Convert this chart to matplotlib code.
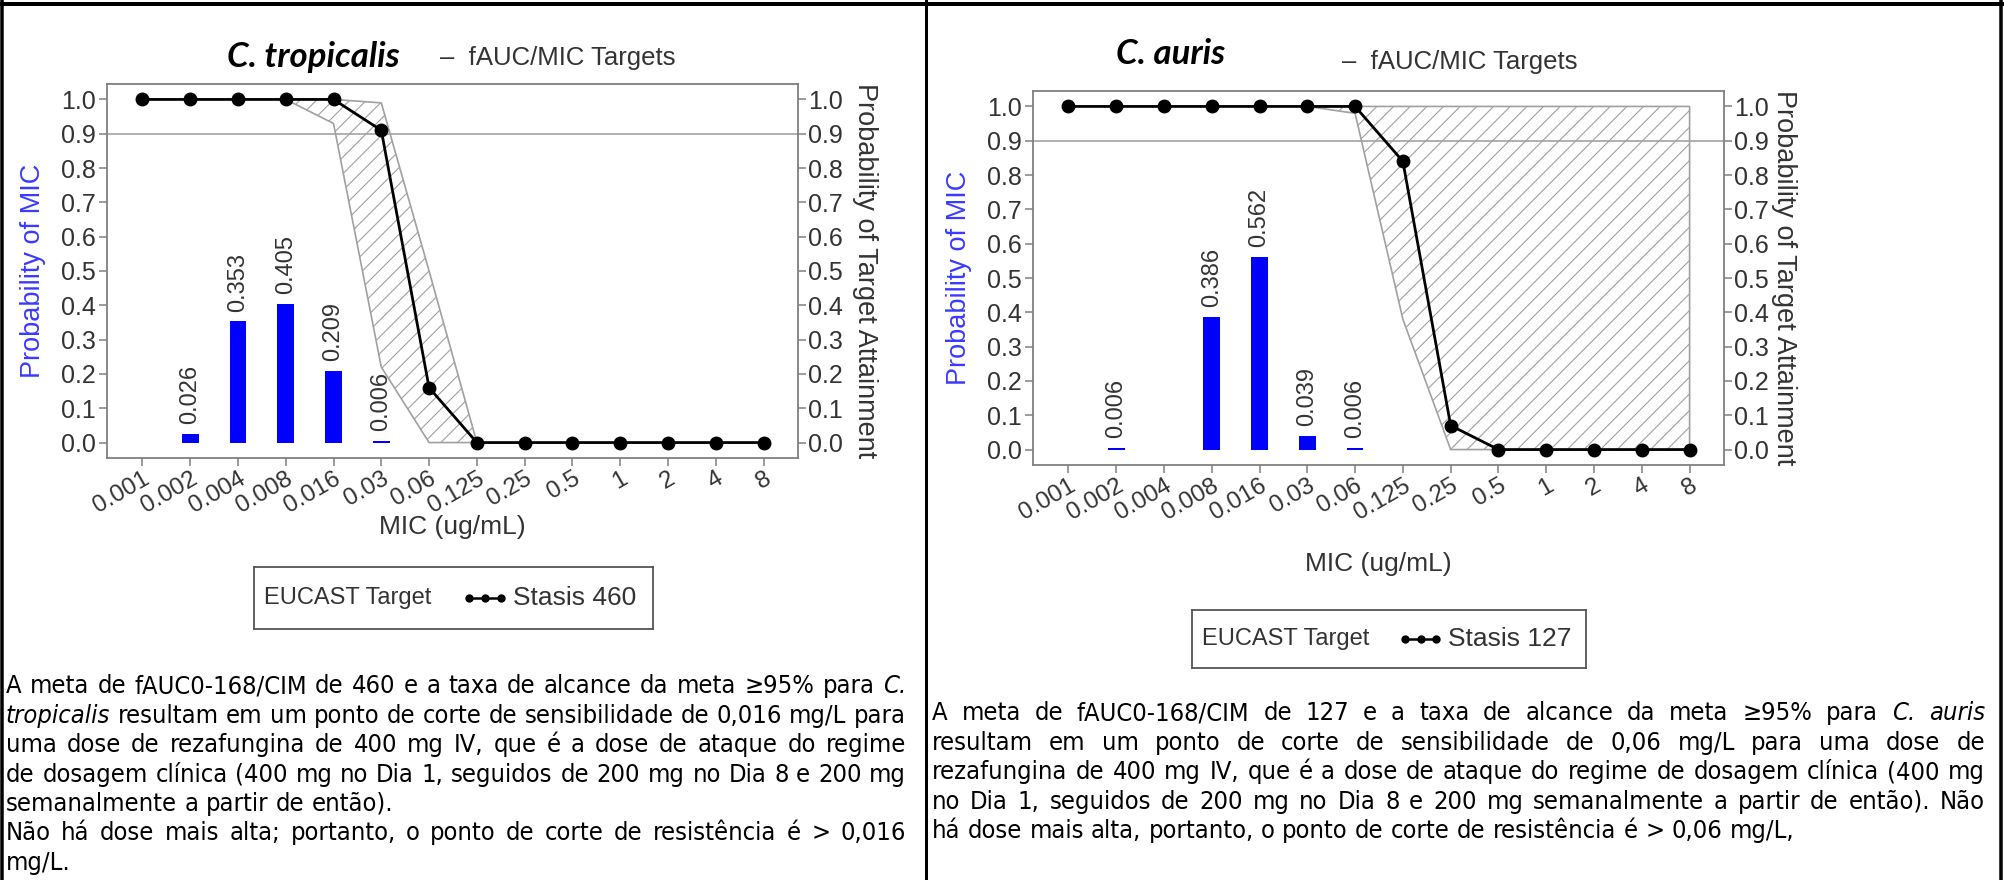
import numpy as np
import matplotlib
matplotlib.use("Agg")
import matplotlib.pyplot as plt
from matplotlib import font_manager as fm
from matplotlib.lines import Line2D
from matplotlib.ticker import FormatStrFormatter
from matplotlib.transforms import ScaledTranslation

W, H = 2004, 880

mic_labels = ["0.001", "0.002", "0.004", "0.008", "0.016", "0.03", "0.06",
              "0.125", "0.25", "0.5", "1", "2", "4", "8"]

# C. tropicalis
trop_mic_prob = [0, 0.026, 0.353, 0.405, 0.209, 0.006, 0, 0, 0, 0, 0, 0, 0, 0]
trop_pta = [1.0, 1.0, 1.0, 1.0, 1.0, 0.91, 0.16, 0.0, 0.0, 0.0, 0.0, 0.0, 0.0, 0.0]
trop_band_idx = [3, 4, 5, 6, 7]
trop_band_hi = [1.0, 1.0, 0.99, 0.50, 0.0]
trop_band_lo = [1.0, 0.93, 0.22, 0.0, 0.0]

# C. auris
auris_mic_prob = [0, 0.006, 0, 0.386, 0.562, 0.039, 0.006, 0, 0, 0, 0, 0, 0, 0]
auris_pta = [1.0, 1.0, 1.0, 1.0, 1.0, 1.0, 1.0, 0.84, 0.07, 0.0, 0.0, 0.0, 0.0, 0.0]
auris_band_idx = [5, 6, 7, 8, 9, 10, 11, 12, 13]
auris_band_hi = [1.0, 1.0, 1.0, 1.0, 1.0, 1.0, 1.0, 1.0, 1.0]
auris_band_lo = [1.0, 0.98, 0.38, 0.0, 0.0, 0.0, 0.0, 0.0, 0.0]

# words wrapped in * are italic
left_lines = [
    "A meta de fAUC0-168/CIM de 460 e a taxa de alcance da meta ≥95% para *C.*",
    "*tropicalis* resultam em um ponto de corte de sensibilidade de 0,016 mg/L para",
    "uma dose de rezafungina de 400 mg IV, que é a dose de ataque do regime",
    "de dosagem clínica (400 mg no Dia 1, seguidos de 200 mg no Dia 8 e 200 mg",
    "semanalmente a partir de então).",
    "Não há dose mais alta; portanto, o ponto de corte de resistência é > 0,016",
    "mg/L.",
]
left_justify = [True, True, True, True, False, True, False]

right_lines = [
    "A meta de fAUC0-168/CIM de 127 e a taxa de alcance da meta ≥95% para *C.* *auris*",
    "resultam em um ponto de corte de sensibilidade de 0,06 mg/L para uma dose de",
    "rezafungina de 400 mg IV, que é a dose de ataque do regime de dosagem clínica (400 mg",
    "no Dia 1, seguidos de 200 mg no Dia 8 e 200 mg semanalmente a partir de então). Não",
    "há dose mais alta, portanto, o ponto de corte de resistência é > 0,06 mg/L,",
]
right_justify = [True, True, True, True, False]

NAMES = {f.name for f in fm.fontManager.ttflist}
SANS = "Liberation Sans" if "Liberation Sans" in NAMES else "DejaVu Sans"
TITLE = "Lato" if "Lato" in NAMES else "Open Sans"

plt.rcParams["font.family"] = [SANS, "DejaVu Sans"]
plt.rcParams["hatch.linewidth"] = 0.8

GRAY = "#808080"
TXT = "#333333"

fig = plt.figure(figsize=(W / 100, H / 100), dpi=100)


def fx(x):
    return x / W


def fy(y):
    return 1 - y / H


def panel(x0, y0, x1, y1, mic_prob, pta, band_idx, band_lo, band_hi,
          title, title_xy, tgt_xy, mic_y, leg_box, stasis, rlab_off):
    ax = fig.add_axes([fx(x0), fy(y1), (x1 - x0) / W, (y1 - y0) / H])
    x = np.arange(len(mic_labels))
    ax.set_xlim(-0.74, 13.72)
    ax.set_ylim(-0.045, 1.045)

    ax.axhline(0.9, color="#aaaaaa", lw=1.3, zorder=1)
    ax.fill_between(band_idx, band_lo, band_hi, facecolor="none",
                    edgecolor="#a0a0a0", hatch="//", linewidth=1.2, zorder=2)
    ax.bar(x, mic_prob, width=0.35, color="#0000ff", zorder=3)
    for i, v in enumerate(mic_prob):
        if v > 0:
            ax.annotate(f"{v:.3f}", (i, v), xytext=(0, 7), textcoords="offset points",
                        rotation=90, ha="center", va="bottom", fontsize=17, color=TXT)
    ax.plot(x, pta, color="black", lw=2, marker="o", ms=9, zorder=5)

    ax.set_xticks(x)
    ax.set_xticklabels(mic_labels, rotation=30, ha="right", rotation_mode="anchor")
    shift = ScaledTranslation(22 / 100, 0, fig.dpi_scale_trans)
    for lab in ax.get_xticklabels():
        lab.set_transform(lab.get_transform() + shift)
    ax.set_yticks(np.arange(0, 1.01, 0.1))
    ax.yaxis.set_major_formatter(FormatStrFormatter("%.1f"))
    for sp in ax.spines.values():
        sp.set_color(GRAY)
        sp.set_linewidth(1.3)
    ax.tick_params(direction="out", length=6, width=1.1, color=GRAY,
                   labelcolor=TXT, labelsize=18, pad=2)
    ax.tick_params(axis="x", pad=1, labelsize=17.5)
    ax.set_ylabel("Probability of MIC", color="#3a3aff", fontsize=19.5, va="center")
    ax.yaxis.set_label_coords(-74 / (x1 - x0), 0.5)

    ax2 = ax.twinx()
    ax2.set_ylim(ax.get_ylim())
    ax2.set_yticks(np.arange(0, 1.01, 0.1))
    ax2.yaxis.set_major_formatter(FormatStrFormatter("%.1f"))
    for sp in ax2.spines.values():
        sp.set_visible(False)
    ax2.tick_params(direction="out", length=6, width=1.1, color=GRAY,
                    labelcolor=TXT, labelsize=18, pad=1.5)
    ax2.set_ylabel("Probability of Target Attainment", rotation=-90, fontsize=19.5,
                   color=TXT, va="center", ha="center")
    ax2.yaxis.set_label_coords(1 + rlab_off / (x1 - x0), 0.5)

    fig.text(fx(title_xy[0]), fy(title_xy[1]), title, family=TITLE, fontsize=25,
             weight="bold", style="italic", ha="center", va="center")
    fig.text(fx(tgt_xy[0]), fy(tgt_xy[1]), "–  fAUC/MIC Targets", fontsize=18.5,
             color=TXT, ha="left", va="center")
    fig.text(fx((x0 + x1) / 2), fy(mic_y), "MIC (ug/mL)", fontsize=19, color=TXT,
             ha="center", va="center")

    lx0, ly0, lx1, ly1 = leg_box
    lg = fig.add_axes([fx(lx0), fy(ly1), (lx1 - lx0) / W, (ly1 - ly0) / H])
    lg.set_xlim(0, 1)
    lg.set_ylim(0, 1)
    lg.set_xticks([])
    lg.set_yticks([])
    for sp in lg.spines.values():
        sp.set_color("#555555")
        sp.set_linewidth(1.3)
    lg.text(0.025, 0.5, "EUCAST Target", fontsize=17, color=TXT, va="center", ha="left")
    lg.plot(np.linspace(0.54, 0.62, 3), [0.5] * 3, color="black", lw=1.8, marker="o", ms=5)
    lg.text(0.65, 0.5, f"Stasis {stasis}", fontsize=19, color=TXT, va="center", ha="left")
    return ax


panel(107, 84, 798, 458, trop_mic_prob, trop_pta, trop_band_idx, trop_band_lo,
      trop_band_hi, "C. tropicalis", (313, 57), (440, 58), 527, (254, 567, 653, 629), 460, 67)
panel(1033, 91, 1724, 465, auris_mic_prob, auris_pta, auris_band_idx, auris_band_lo,
      auris_band_hi, "C. auris", (1171, 54), (1342, 62), 564, (1192, 610, 1586, 668), 127, 60)

# table borders
for xs, ys, lw in [((0, W), (4, 4), 4), ((2, 2), (0, H), 3.5),
                   ((926, 926), (0, H), 3), ((2001, 2001), (0, H), 3.5)]:
    fig.add_artist(Line2D([fx(v) for v in xs], [fy(v) for v in ys], color="black",
                          lw=lw * 0.72, transform=fig.transFigure))

# justified paragraphs
r = fig.canvas.get_renderer()


def candidates():
    out = [(SANS, "normal")]
    for p in ["Liberation Sans Narrow", "Arial Narrow", "Roboto Condensed",
              "Noto Sans Condensed", "Noto Sans SemiCondensed", "DejaVu Sans Condensed"]:
        if p in NAMES:
            out.append((p, "normal"))
    for f in fm.fontManager.ttflist:
        if f.name in ("Liberation Sans", "Roboto", "Noto Sans", "Open Sans",
                      "DejaVu Sans") and f.stretch in ("condensed", "semi-condensed"):
            if (f.name, f.stretch) not in out:
                out.append((f.name, f.stretch))
    return out


def make_words(line, size, fam, stretch):
    arts = []
    for w in line.split(" "):
        it = w.startswith("*")
        arts.append(fig.text(0, 0, w.strip("*"), fontsize=size, family=[fam, "DejaVu Sans"],
                             stretch=stretch, style="italic" if it else "normal",
                             color="black", va="baseline", ha="left"))
    return arts


def space_w(size, fam, stretch):
    a = fig.text(0, 0, "x x", fontsize=size, family=[fam, "DejaVu Sans"], stretch=stretch)
    b = fig.text(0, 0, "xx", fontsize=size, family=[fam, "DejaVu Sans"], stretch=stretch)
    d = a.get_window_extent(r).width - b.get_window_extent(r).width
    a.remove()
    b.remove()
    return d


def natural(lines, justify, size, fam, stretch):
    sp = space_w(size, fam, stretch)
    best = 0
    for line, j in zip(lines, justify):
        if not j:
            continue
        arts = make_words(line, size, fam, stretch)
        wsum = sum(a.get_window_extent(r).width for a in arts)
        for a in arts:
            a.remove()
        best = max(best, wsum + sp * (len(arts) - 1))
    return best


def fit_size(fam, stretch):
    ref = 10.0
    return min(ref * 900 / natural(left_lines, left_justify, ref, fam, stretch),
               ref * 1053 / natural(right_lines, right_justify, ref, fam, stretch))


TARGET = 16.7
best = None
for fam, st in candidates():
    s = fit_size(fam, st)
    score = abs(np.log(s / TARGET))
    if best is None or score < best[0]:
        best = (score, fam, st, s)
_, PFAM, PSTR, PSIZE = best
PSIZE = min(PSIZE, 18.5)


def put_par(lines, justify, x0, x1, ys):
    sp = space_w(PSIZE, PFAM, PSTR)
    em = PSIZE * 100 / 72
    for line, j, y in zip(lines, justify, ys):
        arts = make_words(line, PSIZE, PFAM, PSTR)
        widths = [a.get_window_extent(r).width for a in arts]
        gap = (x1 - x0 - sum(widths)) / (len(arts) - 1) if j and len(arts) > 1 else sp
        xx = x0
        for a, w in zip(arts, widths):
            a.set_position((fx(xx), fy(y + 0.33 * em)))
            xx += w + gap


put_par(left_lines, left_justify, 6, 906, [685 + 29.4 * i for i in range(7)])
put_par(right_lines, right_justify, 932, 1985, [712 + 29.4 * i for i in range(5)])

fig.savefig("out.png", dpi=100)
